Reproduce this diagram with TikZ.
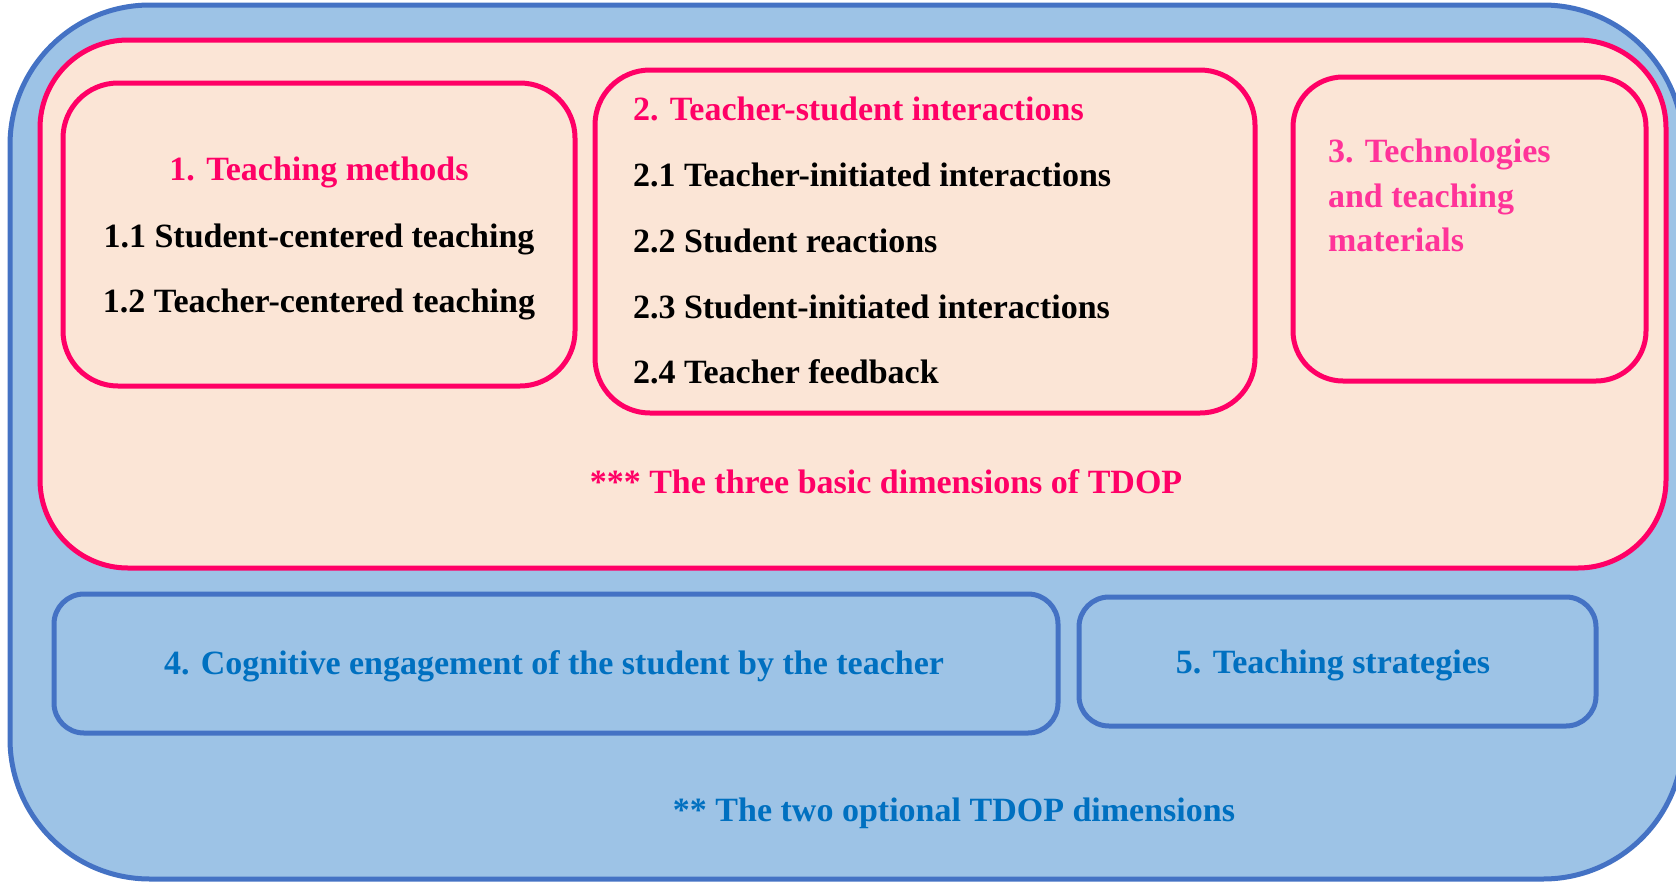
\documentclass[tikz,border=0pt]{standalone}
\usepackage{fontspec}
\setmainfont{Liberation Serif}
\definecolor{outerblue}{HTML}{9DC3E6}
\definecolor{blueline}{HTML}{4472C4}
\definecolor{bluetext}{HTML}{0070C0}
\definecolor{peach}{HTML}{FBE5D6}
\definecolor{pinkline}{HTML}{FF0066}
\definecolor{pinklight}{HTML}{FF3399}
\tikzset{
  panel/.style={draw, rectangle, inner sep=0pt, outer sep=0pt, line width=5pt},
  pinkpanel/.style={panel, draw=pinkline, fill=peach},
  bluepanel/.style={panel, draw=blueline, fill=outerblue},
  lbl/.style={inner sep=0pt, outer sep=0pt, font=\fontsize{34}{40}\selectfont\bfseries},
}
\begin{document}
\begin{tikzpicture}[x=1pt,y=-1pt]
\useasboundingbox (0,0) rectangle (1676,881);
\clip (0,0) rectangle (1676,881);
\fill[white] (0,0) rectangle (1676,881);

% optional dimensions frame
\node[bluepanel, rounded corners=140pt, minimum width=1673pt, minimum height=874pt] (outer) at (846.5,442) {};
% basic dimensions frame
\node[pinkpanel, rounded corners=88pt, minimum width=1626pt, minimum height=528pt] (basic) at (853,304) {};

% dimension 1
\node[pinkpanel, rounded corners=55pt, minimum width=512pt, minimum height=303pt] (d1) at (319,234.5) {};
\node[lbl, text=pinkline, anchor=base] (d1t) at (319,180) {1. Teaching methods};
\node[lbl, anchor=base] (d1a) at (319,247) {1.1 Student-centered teaching};
\node[lbl, anchor=base] (d1b) at (319,312) {1.2 Teacher-centered teaching};

% dimension 2
\node[pinkpanel, rounded corners=55pt, minimum width=660pt, minimum height=343pt] (d2) at (925,241.5) {};
\node[lbl, text=pinkline, anchor=base west] (d2t) at (633,120) {2. Teacher-student interactions};
\node[lbl, anchor=base west] (d2a) at (633,186) {2.1 Teacher-initiated interactions};
\node[lbl, anchor=base west] (d2b) at (633,252) {2.2 Student reactions};
\node[lbl, anchor=base west] (d2c) at (633,318) {2.3 Student-initiated interactions};
\node[lbl, anchor=base west] (d2d) at (633,383) {2.4 Teacher feedback};

% dimension 3
\node[pinkpanel, rounded corners=50pt, minimum width=353pt, minimum height=304pt] (d3) at (1469.5,229) {};
\node[lbl, text=pinklight, anchor=base west] (d3a) at (1328,162) {3. Technologies};
\node[lbl, text=pinklight, anchor=base west] (d3b) at (1328,207) {and teaching};
\node[lbl, text=pinklight, anchor=base west] (d3c) at (1328,251) {materials};

\node[lbl, text=pinkline, anchor=base] (basict) at (886,493) {*** The three basic dimensions of TDOP};

% dimensions 4 and 5
\node[bluepanel, rounded corners=30pt, minimum width=1004pt, minimum height=139pt] (d4) at (556,663.5) {};
\node[lbl, text=bluetext, anchor=base] (d4t) at (554,674) {4. Cognitive engagement of the student by the teacher};
\node[bluepanel, rounded corners=30pt, minimum width=517pt, minimum height=129pt] (d5) at (1337.5,661.5) {};
\node[lbl, text=bluetext, anchor=base] (d5t) at (1333,673) {5. Teaching strategies};

\node[lbl, text=bluetext, anchor=base] (optt) at (954,821) {** The two optional TDOP dimensions};
\end{tikzpicture}
\end{document}
